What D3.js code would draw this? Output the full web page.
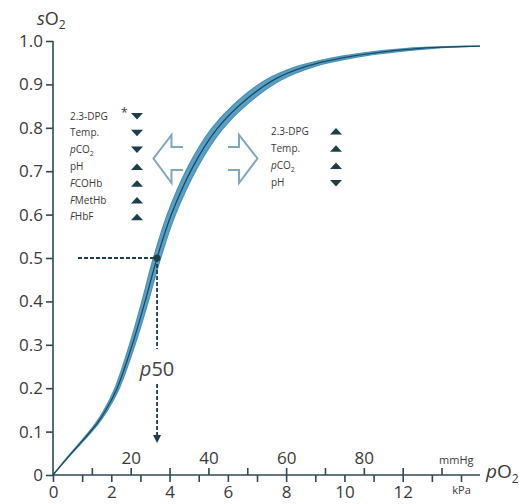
<!DOCTYPE html>
<html>
<head>
<meta charset="utf-8">
<script src="https://cdn.jsdelivr.net/npm/d3@7"></script>
<style>
  body { margin: 0; background: #fff; }
  svg { display: block; font-family: "Open Sans", sans-serif; }
</style>
</head>
<body>
<div id="chart"></div>
<script>
// oxygen dissociation curve
const curveKPa = [0, 0.5, 1.0, 1.5, 1.8, 2.2, 2.72, 3.16, 3.57, 4.06, 4.8, 5.6, 6.4, 7.56, 8.71, 9.85, 10.87, 12.6, 14.65];
const curveSO2 = [0, 0.04, 0.078, 0.118, 0.148, 0.2, 0.3, 0.4, 0.5, 0.6, 0.71, 0.795, 0.852, 0.91, 0.942, 0.96, 0.971, 0.983, 0.988];
const p50KPa = 3.57;
const p50SO2 = 0.5;
const bandSpread = 0.035; // relative shift of p50 shown by the shaded band

const yTicks = [0, 0.1, 0.2, 0.3, 0.4, 0.5, 0.6, 0.7, 0.8, 0.9, 1.0];
const kPaTicks = [0, 1, 2, 3, 4, 5, 6, 7, 8, 9, 10, 11, 12, 13, 14];
const kPaLabels = [0, 2, 4, 6, 8, 10, 12];
const mmHgTicks = [10, 20, 30, 40, 50, 60, 70, 80, 90, 100];
const mmHgLabels = [20, 40, 60, 80];

// "p|CO2": part before | is italic, trailing digit is subscript
const leftFactors = ["2.3-DPG", "Temp.", "p|CO2", "pH", "F|COHb", "F|MetHb", "F|HbF"];
const leftDirs = ["down", "down", "down", "up", "up", "up", "up"];
const rightFactors = ["2.3-DPG", "Temp.", "p|CO2", "pH"];
const rightDirs = ["up", "up", "up", "down"];

const width = 519;
const height = 504;
const dark = "#1d3e4c";
const axisColor = "#2c4a52";
const textColor = "#3a3a3a";

const svg = d3
  .select("#chart")
  .append("svg")
  .attr("width", width)
  .attr("height", height);

const x = d3.scaleLinear().domain([0, 14]).range([53, 461]);
const xmm = d3.scaleLinear().domain([0, 14 * 7.50062]).range([53, 461]);
const y = d3.scaleLinear().domain([0, 1]).range([475, 41]);

const data = curveKPa.map((k, i) => ({ k, s: curveSO2[i] }));
const last = curveKPa[curveKPa.length - 1];

// band (kept inside the end of the curve)
const band = d3
  .area()
  .x0((d) => x(d.k * (1 - bandSpread)))
  .x1((d) => x(Math.min(d.k * (1 + bandSpread), last)))
  .y((d) => y(d.s))
  .curve(d3.curveCatmullRom.alpha(0.5));

svg
  .append("path")
  .datum(data)
  .attr("d", band)
  .attr("fill", "#5ba0c4")
  .attr("stroke", "#4a92b8")
  .attr("stroke-width", 1.2);

svg
  .append("path")
  .datum(data)
  .attr("fill", "none")
  .attr("stroke", "#1b4a64")
  .attr("stroke-width", 1.3)
  .attr(
    "d",
    d3
      .line()
      .x((d) => x(d.k))
      .y((d) => y(d.s))
      .curve(d3.curveCatmullRom.alpha(0.5))
  );

// y axis
const yAxis = svg
  .append("g")
  .attr("transform", `translate(${x(0)},0)`)
  .call(
    d3
      .axisLeft(y)
      .tickValues(yTicks)
      .tickSize(7)
      .tickPadding(3)
      .tickFormat((d) => (d === 0 ? "0" : d3.format(".1f")(d)))
  );
yAxis.select(".domain").attr("d", `M0,${y(1)}V${y(0)}`);

// kPa axis (below)
const xAxis = svg
  .append("g")
  .attr("transform", `translate(0,${y(0)})`)
  .call(
    d3
      .axisBottom(x)
      .tickValues(kPaTicks)
      .tickSize(7)
      .tickPadding(4)
      .tickFormat((d) => (kPaLabels.includes(d) ? d : d === 14 ? "kPa" : ""))
  );
xAxis.select(".domain").attr("d", `M${x(0)},0H480`);

// mmHg axis (above)
const mmAxis = svg
  .append("g")
  .attr("transform", `translate(0,${y(0)})`)
  .call(
    d3
      .axisTop(xmm)
      .tickValues(mmHgTicks)
      .tickSize(7)
      .tickPadding(4)
      .tickFormat((d) => (mmHgLabels.includes(d) ? d : d === 100 ? "mmHg" : ""))
  );
mmAxis.select(".domain").remove();

svg.selectAll(".domain, .tick line").attr("stroke", axisColor).attr("stroke-width", 1.6);
svg
  .selectAll(".tick text")
  .attr("fill", textColor)
  .style("font-family", "'Open Sans', sans-serif")
  .style("font-size", "17px");
xAxis.selectAll(".tick text").filter((d) => d === 14).style("font-size", "11px");
mmAxis
  .selectAll(".tick text")
  .filter((d) => d === 100)
  .style("font-size", "11px")
  .attr("text-anchor", "start")
  .attr("x", -3);

// axis titles
const sTitle = svg.append("text").attr("x", 37).attr("y", 25).attr("fill", textColor).style("font-size", "18px");
sTitle.append("tspan").text("s").style("font-style", "italic");
sTitle.append("tspan").text("O");
sTitle.append("tspan").text("2").attr("dy", 4).style("font-size", "12px");

const pTitle = svg.append("text").attr("x", 486).attr("y", 478).attr("fill", textColor).style("font-size", "19px");
pTitle.append("tspan").text("p").style("font-style", "italic");
pTitle.append("tspan").text("O");
pTitle.append("tspan").text("2").attr("dy", 5).style("font-size", "12px");

// p50 guides
svg
  .append("line")
  .attr("x1", 78)
  .attr("x2", x(p50KPa))
  .attr("y1", y(p50SO2))
  .attr("y2", y(p50SO2))
  .attr("stroke", dark)
  .attr("stroke-width", 1.8)
  .attr("stroke-dasharray", "4,2");

svg
  .append("line")
  .attr("x1", x(p50KPa))
  .attr("x2", x(p50KPa))
  .attr("y1", y(p50SO2))
  .attr("y2", 349)
  .attr("stroke", dark)
  .attr("stroke-width", 1.8)
  .attr("stroke-dasharray", "4,2");

svg
  .append("line")
  .attr("x1", x(p50KPa))
  .attr("x2", x(p50KPa))
  .attr("y1", 384)
  .attr("y2", 436)
  .attr("stroke", dark)
  .attr("stroke-width", 1.8)
  .attr("stroke-dasharray", "4,2");

svg
  .append("path")
  .attr("d", `M${x(p50KPa) - 4},435L${x(p50KPa) + 4},435L${x(p50KPa)},443Z`)
  .attr("fill", dark);

svg
  .append("circle")
  .attr("cx", x(p50KPa))
  .attr("cy", y(p50SO2))
  .attr("r", 3.5)
  .attr("fill", dark);

const p50Label = svg
  .append("text")
  .attr("x", x(p50KPa))
  .attr("y", 376)
  .attr("text-anchor", "middle")
  .attr("fill", "#444")
  .style("font-size", "20px");
p50Label.append("tspan").text("p").style("font-style", "italic");
p50Label.append("tspan").text("50");

// shift arrows
svg
  .append("path")
  .attr("d", "M183,147H171.5V135L153.5,158.5L171.5,183V170H183")
  .attr("fill", "none")
  .attr("stroke", "#7ea8bf")
  .attr("stroke-width", 2);

svg
  .append("path")
  .attr("d", "M228,147H239V135L257.5,158.5L239,183V170H228")
  .attr("fill", "none")
  .attr("stroke", "#7ea8bf")
  .attr("stroke-width", 2);

// factor lists
function drawFactor(sel, label) {
  const parts = label.split("|");
  let rest = parts[parts.length - 1];
  if (parts.length > 1) sel.append("tspan").text(parts[0]).style("font-style", "italic");
  const m = rest.match(/^(.*[A-Za-z])(\d)$/);
  if (m) {
    sel.append("tspan").text(m[1]);
    sel.append("tspan").text(m[2]).attr("dy", 3).style("font-size", "7px");
  } else {
    sel.append("tspan").text(rest);
  }
}

function drawList(labels, dirs, textX, triX, top, step) {
  const g = svg.append("g");
  const rowY = d3
    .scalePoint()
    .domain(d3.range(labels.length))
    .range([top, top + step * (labels.length - 1)]);

  labels.forEach((label, i) => {
    const t = g
      .append("text")
      .attr("x", textX)
      .attr("y", rowY(i) + 3.5)
      .attr("fill", textColor)
      .style("font-size", "10px");
    drawFactor(t, label);

    const cy = rowY(i);
    const d =
      dirs[i] === "up"
        ? `M${triX - 6},${cy + 3.5}L${triX + 6},${cy + 3.5}L${triX},${cy - 3}Z`
        : `M${triX - 6},${cy - 3}L${triX + 6},${cy - 3}L${triX},${cy + 3.5}Z`;
    g.append("path").attr("d", d).attr("fill", dark);
  });
  return g;
}

drawList(leftFactors, leftDirs, 70, 137, 116, 16.8);
drawList(rightFactors, rightDirs, 271, 336, 131, 17.3);

// asterisk on the first left entry
svg
  .append("text")
  .attr("x", 121)
  .attr("y", 117)
  .attr("fill", dark)
  .style("font-size", "12px")
  .text("*");
</script>
</body>
</html>
